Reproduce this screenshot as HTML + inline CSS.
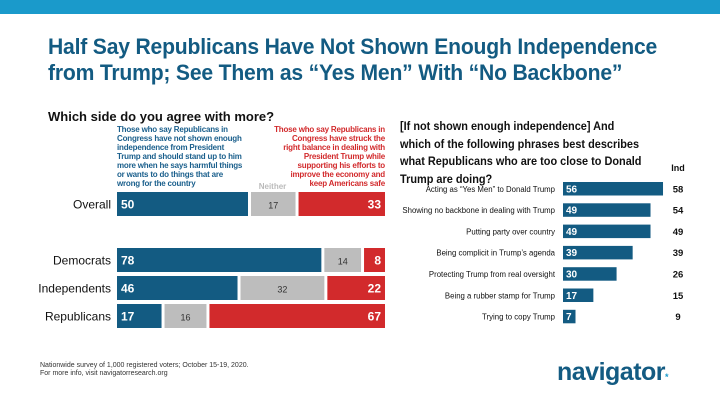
<!DOCTYPE html>
<html><head><meta charset="utf-8"><style>
body{margin:0;width:720px;height:405px;background:#fff;overflow:hidden;font-family:"Liberation Sans",sans-serif;position:relative}
.a{position:absolute}
#title{left:48px;top:34px;font-size:22px;font-weight:bold;color:#135b82;line-height:26px;transform:scaleX(0.96);transform-origin:left top;white-space:nowrap;letter-spacing:-0.2px}
.st{font-size:8px;line-height:9px;font-weight:bold;white-space:nowrap;letter-spacing:-0.2px}
</style></head><body>
<div class="a" style="left:0;top:0;width:720px;height:14px;background:#1a9acb"></div>
<div id="title" class="a">Half Say Republicans Have Not Shown Enough Independence<br>from Trump; See Them as “Yes Men” With “No Backbone”</div>
<div class="a" style="left:48px;top:109px;font-size:13px;font-weight:bold;color:#111">Which side do you agree with more?</div>
<div class="a st" style="left:117px;top:125px;color:#1a5f8c">Those who say Republicans in<br>Congress have not shown enough<br>independence from President<br>Trump and should stand up to him<br>more when he says harmful things<br>or wants to do things that are<br>wrong for the country</div>
<div class="a st" style="left:235px;width:150px;top:125px;color:#d22a2c;text-align:right">Those who say Republicans in<br>Congress have struck the<br>right balance in dealing with<br>President Trump while<br>supporting his efforts to<br>improve the economy and<br>keep Americans safe</div>
<div class="a" style="left:252px;top:182px;width:41px;text-align:center;font-size:8px;color:#bbb;font-weight:bold">Neither</div>
<svg id="left" class="a" style="left:0;top:0" width="400" height="345"></svg>
<div class="a" style="left:400px;top:118px;font-size:12px;font-weight:bold;color:#111;line-height:17.5px;white-space:nowrap;transform:scaleX(0.91);transform-origin:left top">[If not shown enough independence] And<br>which of the following phrases best describes<br>what Republicans who are too close to Donald<br>Trump are doing?</div>
<svg id="right" class="a" style="left:380px;top:0" width="340" height="345"></svg>
<div class="a" style="left:40px;top:362px;font-size:7px;line-height:8px;color:#333">Nationwide survey of 1,000 registered voters; October 15-19, 2020.<br>For more info, visit navigatorresearch.org</div>
<div class="a" style="left:557px;top:358px;font-size:25px;font-weight:bold;color:#135b82;letter-spacing:-0.5px">navigator<span style="font-size:9px;color:#1a9acb">*</span></div>
<script>
var groups=["Overall","Democrats","Independents","Republicans"];
var notEnough=[50,78,46,17];
var neither=[17,14,32,16];
var rightBalance=[33,8,22,67];
var phrases=["Acting as “Yes Men” to Donald Trump","Showing no backbone in dealing with Trump","Putting party over country","Being complicit in Trump’s agenda","Protecting Trump from real oversight","Being a rubber stamp for Trump","Trying to copy Trump"];
var totalVals=[56,49,49,39,30,17,7];
var indVals=[58,54,49,39,26,15,9];
var NS="http://www.w3.org/2000/svg";
function mk(p,t,a){var e=document.createElementNS(NS,t);for(var k in a)e.setAttribute(k,a[k]);p.appendChild(e);return e;}
var L=document.getElementById('left');
var rowY=[192,248,276,304];
function xs(v){return v*2.62;}
groups.forEach(function(g,i){
  var y=rowY[i],h=24,x=117;
  var lb=mk(L,'text',{x:111,y:y+h/2+4.5,'text-anchor':'end','font-size':12,fill:'#111'});lb.textContent=g;
  
  
  var segs=[[notEnough[i],'#135b82','#fff','start'],[neither[i],'#bdbdbd','#333','middle'],[rightBalance[i],'#d22a2c','#fff','end']];
  segs.forEach(function(s,j){
    var w=xs(s[0]);
    var r=mk(L,'rect',{x:x,y:y,width:w,height:h,fill:s[1]});
    
    
    var tx=s[3]=='start'?x+4:s[3]=='middle'?x+w/2:x+w-4;
    var t=mk(L,'text',{x:tx,y:y+h/2+4.5,'text-anchor':s[3],'font-size':j==1?9:12,'font-weight':j==1?'normal':'bold',fill:s[2]});t.textContent=s[0];
    
    
    x+=w+3;
  });
});
var R=document.getElementById('right');
var hd=mk(R,'text',{x:298,y:171,'text-anchor':'middle','font-size':9,'font-weight':'bold',fill:'#111'});hd.textContent='Ind';


phrases.forEach(function(p,i){
  var y=182+i*21.3,h=13.5,x0=183,w=totalVals[i]*1.786;
  var l=mk(R,'text',{x:175,y:y+h/2+3,'text-anchor':'end','font-size':7.8,fill:'#111'});l.textContent=p;
  
  
  var r=mk(R,'rect',{x:x0,y:y,width:w,height:h,fill:'#135b82'});
  
  
  var t=mk(R,'text',{x:x0+3,y:y+h/2+3.5,'font-size':10,'font-weight':'bold',fill:'#fff'});t.textContent=totalVals[i];
  
  
  var d=mk(R,'text',{x:298,y:y+h/2+3.5,'text-anchor':'middle','font-size':9.5,'font-weight':'bold',fill:'#111'});d.textContent=indVals[i];
  
  
});
</script>
</body></html>
